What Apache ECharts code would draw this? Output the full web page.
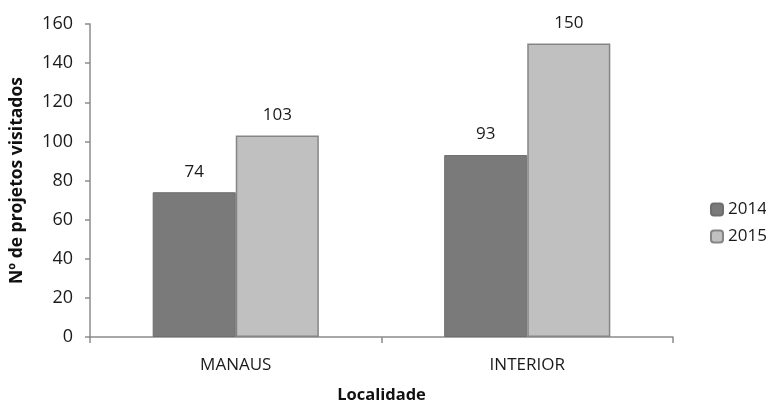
<!DOCTYPE html>
<html>
<head>
<meta charset="utf-8">
<script src="https://cdn.jsdelivr.net/npm/echarts@6/dist/echarts.min.js"></script>
<style>
  html, body { margin: 0; padding: 0; background: #fff; }
  #chart { width: 766px; height: 403px; }
</style>
</head>
<body>
<div id="chart"></div>
<script>
// dados
const categorias = ['MANAUS', 'INTERIOR'];
const anos = ['2014', '2015'];
const valores2014 = [74, 93];
const valores2015 = [103, 150];

const fonte = '"Open Sans", Lato, sans-serif';
const eixoCor = '#8c8c8c';
const textoCor = '#1a1a1a';

const chart = echarts.init(document.getElementById('chart'));
chart.setOption({
  animation: false,
  textStyle: { fontFamily: fonte },
  grid: { left: 90, right: 93, top: 24, bottom: 66, outerBoundsMode: 'none', containLabel: false },
  legend: {
    data: anos,
    orient: 'vertical',
    left: 705,
    top: 196,
    itemWidth: 12,
    itemHeight: 12,
    itemGap: 10,
    textStyle: { fontSize: 17, color: textoCor, fontFamily: fonte }
  },
  xAxis: {
    type: 'category',
    data: categorias,
    name: 'Localidade',
    nameLocation: 'middle',
    nameGap: 50,
    nameTextStyle: { fontSize: 16.5, fontWeight: 'bold', color: '#111' },
    axisLine: { lineStyle: { color: eixoCor, width: 1.5 } },
    axisTick: { show: true, length: 6, lineStyle: { color: eixoCor, width: 1.5 } },
    axisLabel: { fontSize: 17, color: textoCor, margin: 20 }
  },
  yAxis: {
    type: 'value',
    min: 0,
    max: 160,
    interval: 20,
    name: 'Nº de projetos visitados',
    nameLocation: 'middle',
    nameGap: 64,
    nameTextStyle: { fontSize: 17.5, fontWeight: 'bold', color: '#111' },
    axisLine: { show: true, lineStyle: { color: eixoCor, width: 1.5 } },
    axisTick: { show: true, length: 5, lineStyle: { color: eixoCor, width: 1.5 } },
    axisLabel: { fontSize: 18, color: textoCor, margin: 17 },
    splitLine: { show: false }
  },
  series: [
    {
      name: '2014',
      type: 'bar',
      data: valores2014,
      barGap: '0%',
      barCategoryGap: '43%',
      itemStyle: { color: '#7a7a7a', borderColor: '#6e6e6e', borderWidth: 1 },
      label: { show: true, position: 'top', distance: 12, fontSize: 17, color: textoCor }
    },
    {
      name: '2015',
      type: 'bar',
      data: valores2015,
      itemStyle: { color: '#c0c0c0', borderColor: '#858585', borderWidth: 1.5 },
      label: { show: true, position: 'top', distance: 12, fontSize: 17, color: textoCor }
    }
  ]
});
</script>
</body>
</html>
